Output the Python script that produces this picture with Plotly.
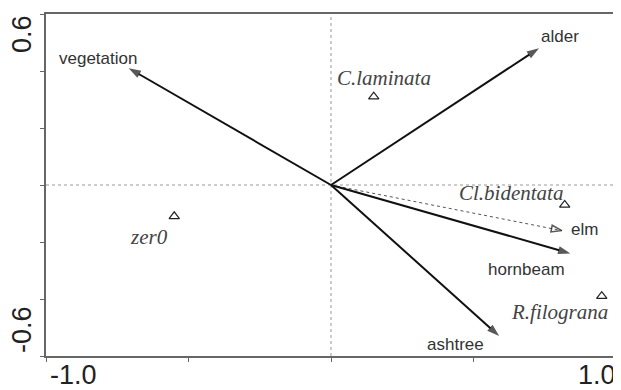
import plotly.graph_objects as go

# environmental variables (arrow tips)
env_names = ["vegetation", "alder", "elm", "hornbeam", "ashtree"]
env_x = [-0.71, 0.73, 0.81, 0.84, 0.59]
env_y = [0.41, 0.48, -0.16, -0.24, -0.53]

# species scores
sp_names = ["C.laminata", "Cl.bidentata", "R.filograna", "zer0"]
sp_x = [0.15, 0.82, 0.95, -0.55]
sp_y = [0.31, -0.07, -0.39, -0.11]

# label offsets in pixels (x, y)
env_off = [(-31, 10), (21, 12), (23, 1), (-44, -16), (-44, -8)]
sp_off = [(10, 19), (-54, 12), (-42, -16), (-25, -21)]

fig = go.Figure()

for i, name in enumerate(env_names):
    dotted = name == "elm"
    fig.add_trace(go.Scatter(
        x=[0, env_x[i]], y=[0, env_y[i]],
        mode="lines+markers",
        line=dict(color="#555" if dotted else "#111", width=1 if dotted else 2,
                  dash="dot" if dotted else "solid"),
        marker=dict(symbol=["circle", "arrow-open" if dotted else "arrow"],
                    size=[0, 13 if not dotted else 11], angleref="previous",
                    color="#111", line=dict(color="#111", width=1.5 if dotted else 0)),
        hoverinfo="skip", showlegend=False,
    ))

fig.add_trace(go.Scatter(
    x=sp_x, y=sp_y, mode="markers",
    marker=dict(symbol="triangle-up-open", size=9, color="#222", line=dict(width=1.2)),
    hoverinfo="skip", showlegend=False,
))

ann = []
for i, name in enumerate(env_names):
    ann.append(dict(x=env_x[i], y=env_y[i], text=name, showarrow=False,
                    xshift=env_off[i][0], yshift=env_off[i][1],
                    font=dict(family="Liberation Sans", size=17, color="#333")))
for i, name in enumerate(sp_names):
    ann.append(dict(x=sp_x[i], y=sp_y[i], text=name, showarrow=False,
                    xshift=sp_off[i][0], yshift=sp_off[i][1],
                    font=dict(family="Liberation Serif", size=21, color="#444", style="italic")))

tick_font = dict(family="Liberation Sans", size=27, color="#222")
ann += [
    dict(xref="paper", yref="paper", x=0.0035, y=-0.056, text="-1.0", showarrow=False,
         xanchor="left", yanchor="middle", font=tick_font),
    dict(xref="paper", yref="paper", x=1.0035, y=-0.056, text="1.0", showarrow=False,
         xanchor="right", yanchor="middle", font=tick_font),
    dict(xref="paper", yref="paper", x=-0.042, y=0.9415, text="0.6", showarrow=False,
         textangle=-90, xanchor="center", yanchor="middle", font=tick_font),
    dict(xref="paper", yref="paper", x=-0.042, y=0.076, text="-0.6", showarrow=False,
         textangle=-90, xanchor="center", yanchor="middle", font=tick_font),
]

# the page body adds an 8px offset, so the figure is sized and shifted to compensate
fig.update_layout(
    width=613, height=382,
    margin=dict(l=38, r=3, t=6, b=34),
    paper_bgcolor="white", plot_bgcolor="white",
    annotations=ann,
    shapes=[
        dict(type="line", xref="x", yref="y", x0=-1, x1=1, y0=0, y1=0,
             line=dict(color="#999", width=1, dash="dot"), layer="below"),
        dict(type="line", xref="x", yref="y", x0=0, x1=0, y0=-0.6, y1=0.6,
             line=dict(color="#999", width=1, dash="dot"), layer="below"),
    ],
    xaxis=dict(range=[-1, 1], tickvals=[-1, -0.5, 0, 0.5, 1], showticklabels=False,
               ticks="outside", ticklen=4, tickcolor="#666", showgrid=False, zeroline=False,
               showline=True, mirror=True, linecolor="#666", linewidth=1.5),
    yaxis=dict(range=[-0.6, 0.6], tickvals=[-0.6, -0.4, -0.2, 0, 0.2, 0.4, 0.6],
               showticklabels=False, ticks="outside", ticklen=4, tickcolor="#666",
               showgrid=False, zeroline=False,
               showline=True, mirror=True, linecolor="#666", linewidth=1.5),
)

fig.write_html("out.html")
